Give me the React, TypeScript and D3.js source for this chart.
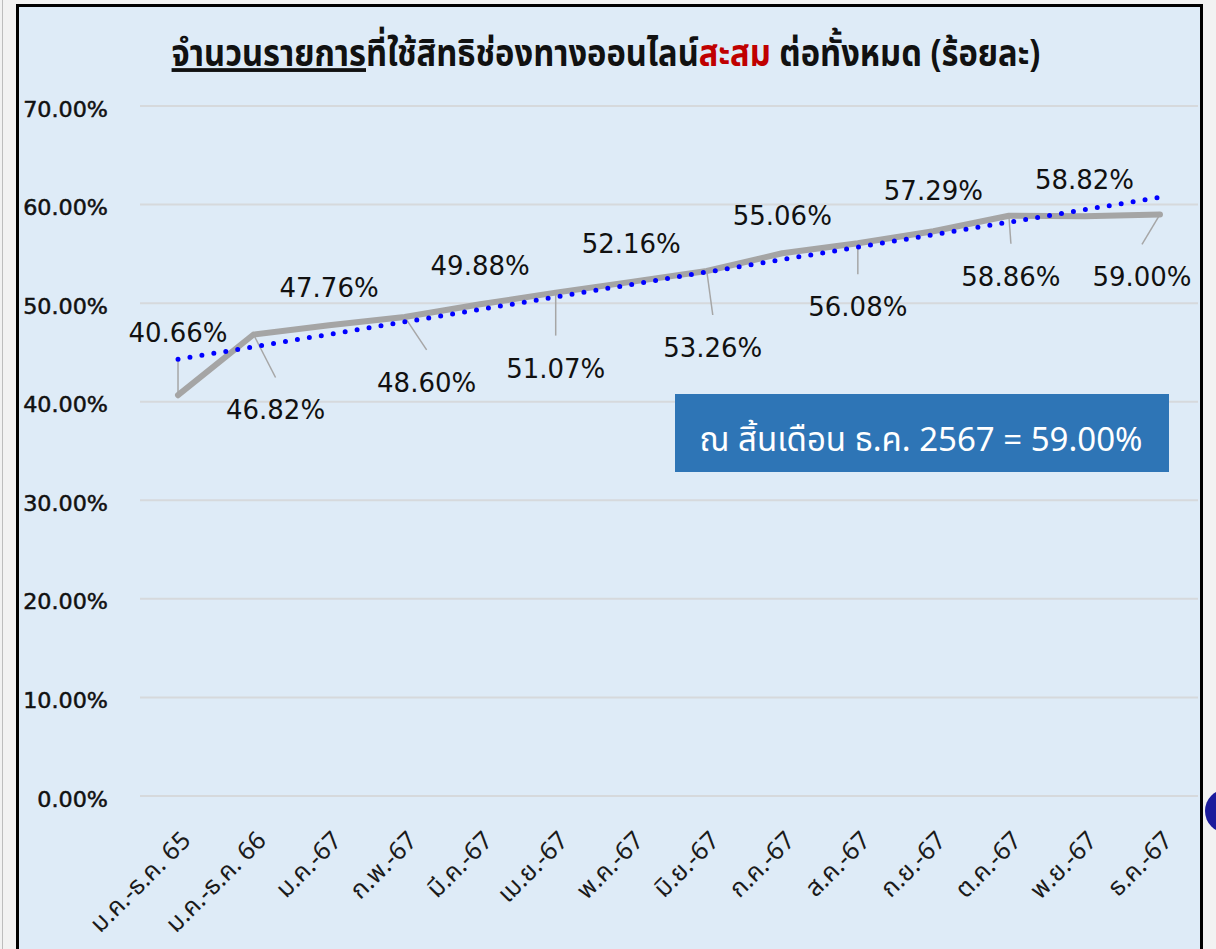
import { useEffect, useRef } from 'react';
import * as d3 from 'd3';

// ── data ─────────────────────────────────────────────────────────────────────
const categories = [
  'ม.ค.-ธ.ค. 65', 'ม.ค.-ธ.ค. 66', 'ม.ค.-67', 'ก.พ.-67', 'มี.ค.-67', 'เม.ย.-67', 'พ.ค.-67',
  'มิ.ย.-67', 'ก.ค.-67', 'ส.ค.-67', 'ก.ย.-67', 'ต.ค.-67', 'พ.ย.-67', 'ธ.ค.-67',
];
const shares = [40.66, 46.82, 47.76, 48.60, 49.88, 51.07, 52.16, 53.26, 55.06, 56.08, 57.29, 58.86, 58.82, 59.00];
const yTicks = [0, 10, 20, 30, 40, 50, 60, 70];

const titleParts = [
  { text: 'จำนวนรายการ', red: false, underline: true },
  { text: 'ที่ใช้สิทธิช่องทางออนไลน์', red: false, underline: false },
  { text: 'สะสม', red: true, underline: false },
  { text: ' ต่อทั้งหมด (ร้อยละ)', red: false, underline: false },
];
const noteText = 'ณ สิ้นเดือน ธ.ค. 2567 = 59.00%';

// label nudges (px) like the hand-placed excel labels, leader = draw connector
const labelNudge = [
  { dx: 0, dy: -53, leader: true },
  { dx: 22, dy: 85, leader: true },
  { dx: 0, dy: -28, leader: false },
  { dx: 22, dy: 75, leader: true },
  { dx: 0, dy: -29, leader: false },
  { dx: 0, dy: 85, leader: true },
  { dx: 0, dy: -29, leader: false },
  { dx: 6, dy: 86, leader: true },
  { dx: 0, dy: -28, leader: false },
  { dx: 0, dy: 73, leader: true },
  { dx: 0, dy: -31, leader: false },
  { dx: 2, dy: 70, leader: true },
  { dx: 0, dy: -27, leader: false },
  { dx: -18, dy: 72, leader: true },
];

const W = 1216, H = 949;
const THAI = "Tahoma, 'Noto Sans Thai', 'Noto Sans', 'DejaVu Sans', sans-serif";

export default function App() {
  const svgRef = useRef<SVGSVGElement>(null);

  useEffect(() => {
    document.body.style.margin = '0';
    const svg = d3.select(svgRef.current);
    svg.selectAll('*').remove();

    // page + panel
    svg.append('rect').attr('width', W).attr('height', H).attr('fill', '#f2f2f2');
    svg.append('line').attr('x1', 2.5).attr('x2', 2.5).attr('y1', 0).attr('y2', H)
      .attr('stroke', '#bdbdbd').attr('stroke-width', 1);
    svg.append('circle').attr('cx', 1227).attr('cy', 811).attr('r', 22).attr('fill', '#1c1c9c');
    svg.append('rect').attr('x', 17.5).attr('y', 5.5).attr('width', 1184).attr('height', H + 10)
      .attr('fill', '#deebf7').attr('stroke', '#000').attr('stroke-width', 3);

    const x = d3.scalePoint<string>().domain(categories).range([140.25, 1197.75]).padding(0.5);
    const y = d3.scaleLinear().domain([0, 70]).range([796, 106]);

    // grid
    svg.append('g').selectAll('line').data(yTicks).enter().append('line')
      .attr('x1', 140).attr('x2', 1198)
      .attr('y1', d => y(d)).attr('y2', d => y(d))
      .attr('stroke', '#d6d9dc').attr('stroke-width', 2);

    // y labels
    svg.append('g').selectAll('text').data(yTicks).enter().append('text')
      .attr('transform', d => `translate(108,${y(d) + 3}) scale(1.06,1)`)
      .attr('text-anchor', 'end').attr('dy', '0.36em')
      .style('font-family', "'DejaVu Sans', Verdana, sans-serif").style('font-size', '21px')
      .attr('fill', '#111').attr('stroke', '#111').attr('stroke-width', 0.5)
      .text(d => `${d.toFixed(2)}%`);

    // x labels
    svg.append('g').selectAll('text').data(categories).enter().append('text')
      .attr('transform', d => `translate(${(x(d) ?? 0) + 14},842) rotate(-45)`)
      .attr('text-anchor', 'end')
      .style('font-family', THAI).style('font-size', '25px').attr('fill', '#1a1a1a')
      .text(d => d);

    // title
    const title = svg.append('text').attr('transform', 'translate(606,66) scale(0.86,1)')
      .attr('text-anchor', 'middle')
      .style('font-family', THAI).style('font-size', '38px').style('font-weight', 'bold');
    titleParts.forEach(p => {
      title.append('tspan').text(p.text)
        .attr('fill', p.red ? '#c00000' : '#111')
        .style('text-decoration', p.underline ? 'underline' : 'none');
    });

    // leaders
    const pts = shares.map((v, i) => ({ v, i, cx: x(categories[i]) ?? 0, cy: y(v) }));
    svg.append('g').selectAll('line').data(pts.filter(p => labelNudge[p.i].leader)).enter().append('line')
      .attr('x1', p => p.cx).attr('y1', p => p.cy)
      .attr('x2', p => p.cx + labelNudge[p.i].dx)
      .attr('y2', p => labelNudge[p.i].dy < 0 ? p.cy + labelNudge[p.i].dy + 18 : p.cy + labelNudge[p.i].dy - 42)
      .attr('stroke', '#a6a6a6').attr('stroke-width', 1.5);

    // actual series
    const line = d3.line<{ cx: number; cy: number }>().x(p => p.cx).y(p => p.cy);
    svg.append('path').datum(pts).attr('d', line)
      .attr('fill', 'none').attr('stroke', '#a5a5a5').attr('stroke-width', 6)
      .attr('stroke-linejoin', 'round').attr('stroke-linecap', 'round');

    // linear trend (least squares)
    const xs = shares.map((_, i) => i);
    const mx = d3.mean(xs) as number, my = d3.mean(shares) as number;
    const slope = d3.sum(xs, (xi, k) => (xi - mx) * (shares[k] - my)) / d3.sum(xs, xi => (xi - mx) ** 2);
    const trend = [0, shares.length - 1].map(i => ({ cx: x(categories[i]) ?? 0, cy: y(my + slope * (i - mx)) }));
    svg.append('path').datum(trend).attr('d', line)
      .attr('fill', 'none').attr('stroke', '#0000ff').attr('stroke-width', 5)
      .attr('stroke-dasharray', '0 12.1').attr('stroke-linecap', 'round');

    // data labels
    svg.append('g').selectAll('text').data(pts).enter().append('text')
      .attr('x', p => p.cx + labelNudge[p.i].dx)
      .attr('y', p => p.cy + labelNudge[p.i].dy)
      .attr('text-anchor', 'middle')
      .style('font-family', "'DejaVu Sans', Tahoma, sans-serif").style('font-size', '26px')
      .attr('fill', '#111')
      .text(p => `${p.v.toFixed(2)}%`);

    // note box
    svg.append('rect').attr('x', 675).attr('y', 394).attr('width', 494).attr('height', 78).attr('fill', '#2e75b6');
    svg.append('text').attr('x', 921).attr('y', 451).attr('text-anchor', 'middle')
      .style('font-family', THAI).style('font-size', '33px').attr('fill', '#fff')
      .text(noteText);
  }, []);

  return <svg ref={svgRef} width={W} height={H} style={{ display: 'block' }} />;
}
